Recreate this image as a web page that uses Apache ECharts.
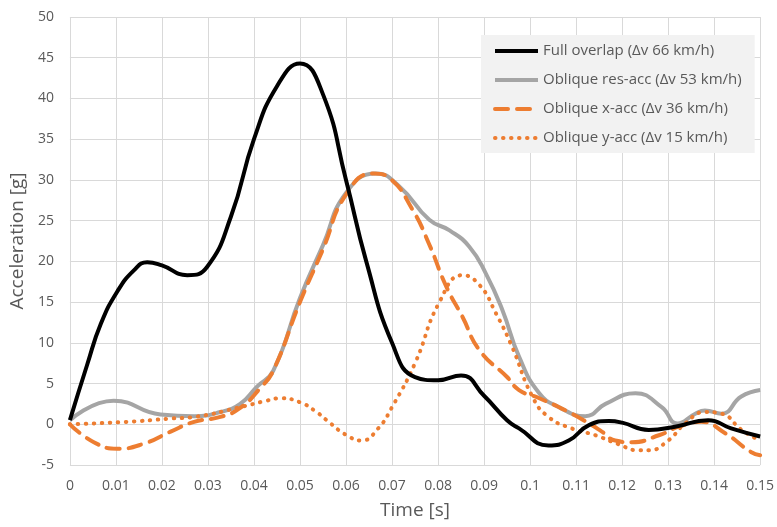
<!DOCTYPE html>
<html>
<head>
<meta charset="utf-8">
<script src="https://cdn.jsdelivr.net/npm/echarts@6/dist/echarts.min.js"></script>
<style>
html,body{margin:0;padding:0;background:#fff;}
#chart{width:777px;height:527px;}
</style>
</head>
<body>
<div id="chart"></div>
<script>
// Series names
const seriesNames = [
  'Full overlap (Δv 66 km/h)',
  'Oblique res-acc (Δv 53 km/h)',
  'Oblique x-acc (Δv 36 km/h)',
  'Oblique y-acc (Δv 15 km/h)'
];

// Full overlap
const fullT = [0, 0.0038, 0.0067, 0.0103, 0.0139, 0.0168, 0.02, 0.0255, 0.0298, 0.035, 0.04, 0.045, 0.05, 0.055, 0.06, 0.0644, 0.07, 0.075, 0.08, 0.085, 0.09, 0.095, 0.0976, 0.104, 0.1084, 0.1128, 0.1171, 0.12, 0.1258, 0.1315, 0.1387, 0.1437, 0.15];
const fullA = [0.5, 7.4, 12.3, 16.3, 18.9, 19.9, 19.5, 18.3, 19.3, 25.5, 35, 41.5, 44.3, 40.5, 30, 20, 10, 5.8, 5.4, 6.0, 3.5, 0.5, -0.5, -2.6, -2.0, -0.1, 0.4, 0.2, -0.7, -0.3, 0.5, -0.5, -1.5];

// Oblique resultant
const resT = [0, 0.0095, 0.0197, 0.027, 0.0327, 0.037, 0.0406, 0.0442, 0.05, 0.055, 0.06, 0.0665, 0.0716, 0.0781, 0.0825, 0.0868, 0.0904, 0.094, 0.0976, 0.102, 0.1063, 0.112, 0.1164, 0.1229, 0.1286, 0.132, 0.1359, 0.138, 0.1416, 0.1459, 0.15];
const resA = [0.5, 2.9, 1.2, 1.0, 1.5, 2.5, 4.6, 6.6, 15.5, 22, 28.4, 30.8, 29.2, 25.1, 23.8, 21.8, 18.5, 14, 8.3, 3.8, 2.1, 1.0, 2.5, 3.8, 2.1, 0.1, 1.3, 1.7, 1.3, 3.4, 4.2];

// Oblique x
const xT = [0, 0.0052, 0.0103, 0.016, 0.0219, 0.027, 0.0327, 0.037, 0.0413, 0.0442, 0.05, 0.055, 0.06, 0.066, 0.0695, 0.0745, 0.078, 0.0818, 0.0853, 0.089, 0.095, 0.0976, 0.102, 0.1084, 0.1128, 0.1156, 0.1185, 0.1221, 0.128, 0.1323, 0.1372, 0.1424, 0.148, 0.15];
const xA = [0, -2.2, -3.0, -2.4, -0.9, 0.3, 0.9, 2.0, 4.4, 6.6, 15, 21.5, 28.2, 30.8, 30.2, 26.3, 22.2, 16.9, 13.2, 9.1, 5.8, 4.2, 3.2, 1.5, 0.1, -0.9, -2.0, -2.2, -1.35, -0.3, 0.3, -1.1, -3.4, -3.8];

// Oblique y
const yT = [0, 0.0125, 0.0219, 0.027, 0.037, 0.0428, 0.0457, 0.05, 0.0536, 0.0558, 0.06, 0.0634, 0.067, 0.07, 0.075, 0.0803, 0.0853, 0.089, 0.0926, 0.0961, 0.1005, 0.104, 0.109, 0.1142, 0.119, 0.1236, 0.1258, 0.13, 0.1337, 0.138, 0.1416, 0.146, 0.15];
const yA = [0, 0.3, 0.7, 0.9, 2.1, 2.9, 3.2, 2.7, 1.5, 0.5, -1.3, -2.0, -0.5, 2.1, 7.5, 15, 18.3, 17.1, 13.6, 9.5, 3.4, 0.9, -0.5, -1.35, -2.4, -3.2, -3.2, -2.0, 0.1, 1.5, 1.3, -0.7, -2.0];

function pairs(t, a) { return t.map((v, i) => [v, a[i]]); }

const FONT = '"Open Sans", "Noto Sans", sans-serif';
const chart = echarts.init(document.getElementById('chart'), null, {renderer: 'canvas'});
const smooth = 0.5;
chart.setOption({
  backgroundColor: '#fff',
  animation: false,
  textStyle: {fontFamily: FONT},
  grid: {left: 69, right: 15, top: 17, bottom: 62, containLabel: false},
  legend: {
    orient: 'vertical',
    left: 481,
    top: 35,
    backgroundColor: '#F2F2F2',
    padding: [7, 13, 6, 12],
    itemGap: 11,
    itemWidth: 43,
    itemHeight: 18,
    itemStyle: {opacity: 0},
    lineStyle: {width: 4},
    textStyle: {fontSize: 15, color: '#595959', fontFamily: FONT, lineHeight: 18},
    data: seriesNames
  },
  xAxis: {
    type: 'value', min: 0, max: 0.15, interval: 0.01,
    name: 'Time [s]', nameLocation: 'middle', nameGap: 36,
    nameTextStyle: {fontSize: 19, color: '#595959', fontFamily: FONT},
    axisLine: {show: false}, axisTick: {show: false},
    axisLabel: {fontSize: 14, color: '#595959', margin: 14,
      formatter: v => String(Math.round(v * 100) / 100)},
    splitLine: {show: true, lineStyle: {color: '#D9D9D9', width: 1}}
  },
  yAxis: {
    type: 'value', min: -5, max: 50, interval: 5,
    name: 'Acceleration [g]', nameLocation: 'middle', nameGap: 35,
    nameTextStyle: {fontSize: 19, color: '#595959', fontFamily: FONT},
    axisLine: {show: false}, axisTick: {show: false},
    axisLabel: {fontSize: 14, color: '#595959', margin: 16},
    splitLine: {show: true, lineStyle: {color: '#D9D9D9', width: 1}}
  },
  series: [
    {name: seriesNames[0], type: 'line', data: pairs(fullT, fullA), smooth: smooth, showSymbol: false, symbol: 'none',
     lineStyle: {color: '#000000', width: 4}, itemStyle: {color: '#000000'}, z: 4},
    {name: seriesNames[1], type: 'line', data: pairs(resT, resA), smooth: smooth, showSymbol: false, symbol: 'none',
     lineStyle: {color: '#A5A5A5', width: 4}, itemStyle: {color: '#A5A5A5'}, z: 1},
    {name: seriesNames[2], type: 'line', data: pairs(xT, xA), smooth: smooth, showSymbol: false, symbol: 'none',
     lineStyle: {color: '#ED7D31', width: 4, type: [13, 9], cap: 'round'}, itemStyle: {color: '#ED7D31'}, z: 2},
    {name: seriesNames[3], type: 'line', data: pairs(yT, yA), smooth: smooth, showSymbol: false, symbol: 'none',
     lineStyle: {color: '#ED7D31', width: 4, type: [0.5, 7.5], cap: 'round'}, itemStyle: {color: '#ED7D31'}, z: 3}
  ]
});
</script>
</body>
</html>
